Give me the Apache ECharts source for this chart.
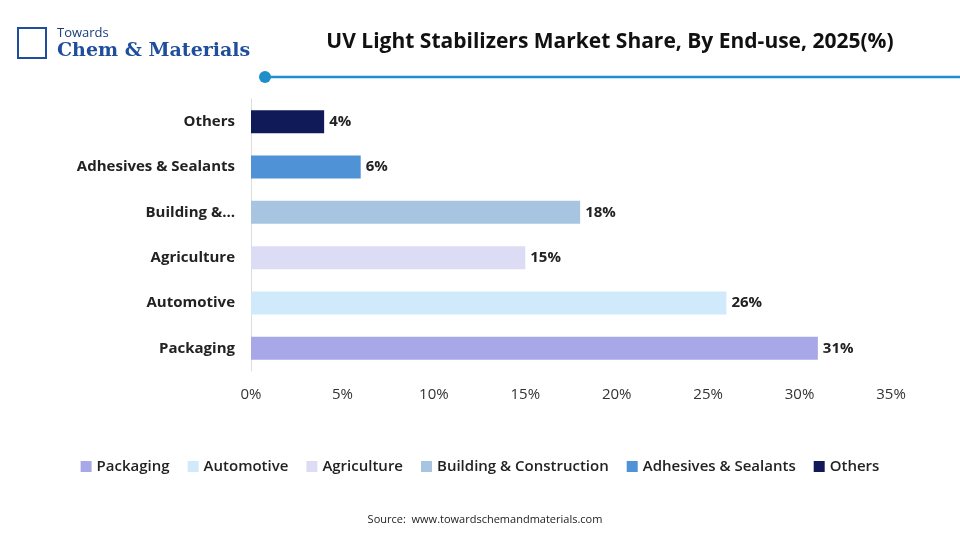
<!DOCTYPE html>
<html><head><meta charset="utf-8">
<script src="https://cdn.jsdelivr.net/npm/echarts@6/dist/echarts.min.js"></script>
<style>html,body{margin:0;padding:0;background:#fff}#c{width:960px;height:540px}</style>
</head><body><div id="c"></div>
<script>
const categories = ["Packaging","Automotive","Agriculture","Building & Construction","Adhesives & Sealants","Others"];
const values = [31,26,15,18,6,4];
const colors = ["#a8a8e8","#d0e9fb","#dcdcf5","#a7c4e1","#4f93d6","#101a58"];
const xTicks = [0,5,10,15,20,25,30,35];

const chart = echarts.init(document.getElementById('c'));
const font = "'Open Sans', 'Noto Sans', sans-serif";
chart.setOption({
  animation:false,
  textStyle:{fontFamily:font},
  title:[
    {text:"UV Light Stabilizers Market Share, By End-use, 2025(%)",left:605,top:27,textAlign:'center',
     textStyle:{fontSize:21,fontWeight:'bold',color:'#111',fontFamily:font}},
    {text:"Source:  www.towardschemandmaterials.com",left:480,top:509,textAlign:'center',
     textStyle:{fontSize:11,fontWeight:'normal',color:'#222',fontFamily:font}},
    {text:"Towards",left:52,top:22,textStyle:{fontSize:13,fontWeight:'normal',color:'#1a3d7c',fontFamily:font}},
    {text:"Chem & Materials",left:52,top:37,textStyle:{fontSize:19,fontWeight:'bold',color:'#1f4f9c',fontFamily:"'DejaVu Serif', serif"}}
  ],
  graphic:[
    {type:'line',shape:{x1:265,y1:77,x2:960,y2:77},style:{stroke:'#1f8fc9',lineWidth:2.5}},
    {type:'circle',shape:{cx:265,cy:77,r:6},style:{fill:'#1f8fc9'}},
    {type:'rect',shape:{x:18,y:28,width:28,height:30},style:{fill:'none',stroke:'#1f4f9c',lineWidth:2}}
  ],
  legend:{top:454,left:'center',itemWidth:11,itemHeight:11,itemGap:18,icon:'rect',
    textStyle:{fontSize:15,fontWeight:600,color:'#222',fontFamily:font},
    data:categories},
  grid:{left:251,right:69,top:99,bottom:169},
  xAxis:{type:'value',min:0,max:35,interval:5,
    axisLabel:{formatter:v=>v+'%',fontSize:15,color:'#333',margin:16},
    splitLine:{show:false},axisLine:{show:false},axisTick:{show:false}},
  yAxis:{type:'category',data:categories,
    axisLine:{show:true,lineStyle:{color:'#ddd'}},axisTick:{show:false},
    axisLabel:{fontSize:15,fontWeight:'bold',color:'#222',margin:16,
      formatter:v=>v==="Building & Construction"?"Building &…":v}},
  series:categories.map((c,i)=>({
    name:c,type:'bar',stack:'s',barWidth:23,
    itemStyle:{color:colors[i]},
    label:{show:true,position:'right',formatter:p=>p.value+'%',fontSize:15,fontWeight:'bold',color:'#222'},
    data:categories.map((_,j)=>j===i?values[i]:'-')
  }))
});
</script></body></html>
